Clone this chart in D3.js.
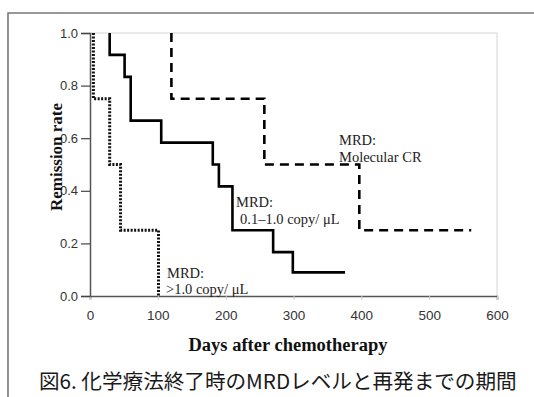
<!DOCTYPE html>
<html><head><meta charset="utf-8">
<script src="https://cdn.jsdelivr.net/npm/d3@7"></script>
<style>body{margin:0;background:#fff;}svg{display:block;}</style>
</head><body>
<script>
// Data (days after chemotherapy, remission rate)
// Each *Days entry = day of a drop from the matching *Rates level; last solid/dashed day = end of follow-up
const solidDays   = [29, 51, 60, 105, 181, 190, 210, 270, 299, 376];
const solidRates  = [1.0, 0.917, 0.833, 0.667, 0.583, 0.5, 0.417, 0.25, 0.167, 0.09];
const dottedDays  = [5, 29, 45, 101];
const dottedRates = [1.0, 0.75, 0.5, 0.25];
const dashedDays  = [120, 257, 397, 562];
const dashedRates = [1.0, 0.75, 0.5, 0.25];
const xTicks = [0, 100, 200, 300, 400, 500, 600];
const yTicks = [0.0, 0.2, 0.4, 0.6, 0.8, 1.0];

const W = 534, H = 397;
const svg = d3.select("body").append("svg").attr("width", W).attr("height", H);

const x = d3.scaleLinear().domain([0, 600]).range([90, 497]);
const y = d3.scaleLinear().domain([0, 1]).range([296, 33]);

// outer frame (cropped)
svg.append("path").attr("d", `M8,${H+2} V13 H${W+2}`)
  .attr("fill", "none").attr("stroke", "#777").attr("stroke-width", 1.6);

// plot border top/right light gray
svg.append("path").attr("d", `M90,33 H497 V296`)
  .attr("fill", "none").attr("stroke", "#d4d4d4").attr("stroke-width", 1);

const sans = "Liberation Sans, Arial, sans-serif";
// x axis
const xAxis = d3.axisBottom(x).tickValues(xTicks).tickSize(4).tickFormat(d3.format("d")).tickPadding(10);
const gx = svg.append("g").attr("transform", "translate(0,296)").call(xAxis);
gx.select(".domain").attr("stroke", "#555").attr("stroke-width", 1.5);
gx.selectAll(".tick line").attr("stroke", "#ccc");
gx.selectAll(".tick text").attr("font-family", sans).attr("font-size", 13.5).attr("fill", "#333");

// y axis
const yAxis = d3.axisLeft(y).tickValues(yTicks).tickSize(9).tickFormat(d3.format(".1f")).tickPadding(3);
const gy = svg.append("g").attr("transform", "translate(90,0)").call(yAxis);
gy.select(".domain").attr("stroke", "#555").attr("stroke-width", 1.5);
gy.selectAll(".tick line").attr("stroke", "#444").attr("stroke-width", 1.2);
gy.selectAll(".tick text").attr("font-family", sans).attr("font-size", 13).attr("fill", "#333");

// Kaplan-Meier style step path
function kmPath(days, rates, finalRate, endDay) {
  let pts = [[days[0], rates[0]]];
  for (let i = 0; i < days.length; i++) {
    const next = i + 1 < rates.length ? rates[i + 1] : finalRate;
    pts.push([days[i], next]);
    const nd = i + 1 < days.length ? days[i + 1] : endDay;
    pts.push([nd, next]);
  }
  return d3.line().x(d => x(d[0])).y(d => y(d[1]))(pts);
}

svg.append("path")
  .attr("d", kmPath(solidDays.slice(0, -1), solidRates.slice(0, -1), solidRates[solidRates.length - 1], solidDays[solidDays.length - 1]))
  .attr("fill", "none").attr("stroke", "#000").attr("stroke-width", 2.6);

svg.append("path")
  .attr("d", kmPath(dottedDays, dottedRates, 0, dottedDays[dottedDays.length - 1]))
  .attr("fill", "none").attr("stroke", "#111").attr("stroke-width", 3)
  .attr("stroke-dasharray", "2,1.5");

svg.append("path")
  .attr("d", kmPath(dashedDays.slice(0, -1), dashedRates.slice(0, -1), dashedRates[dashedRates.length - 1], dashedDays[dashedDays.length - 1]))
  .attr("fill", "none").attr("stroke", "#000").attr("stroke-width", 2.6)
  .attr("stroke-dasharray", "9,6");

// annotations
const serif = "Liberation Serif, Times New Roman, serif";
function label(lines, xx, yy, gap) {
  const t = svg.append("text").attr("font-family", serif).attr("font-size", 14.5).attr("fill", "#222");
  lines.forEach((s, i) => t.append("tspan").attr("x", xx[i]).attr("y", yy + i * gap).text(s));
}
label(["MRD:", "Molecular CR"], [339, 339], 145, 17);
label(["MRD:", "0.1\u20131.0 copy/ \u03bcL"], [236, 240], 207, 17);
label(["MRD:", ">1.0 copy/ \u03bcL"], [167, 166], 278, 15.5);

// axis titles
svg.append("text").attr("x", 288).attr("y", 351).attr("text-anchor", "middle")
  .attr("font-family", serif).attr("font-weight", "bold").attr("font-size", 18.5).attr("fill", "#111")
  .text("Days after chemotherapy");
svg.append("text").attr("transform", "translate(62,157) rotate(-90)").attr("text-anchor", "middle")
  .attr("font-family", serif).attr("font-weight", "bold").attr("font-size", 17).attr("fill", "#111")
  .text("Remission rate");

// caption
svg.append("text").attr("x", 39).attr("y", 389)
  .attr("font-family", "Noto Sans CJK JP, sans-serif").attr("font-size", 20.6).attr("fill", "#1a1a1a")
  .text("図6. 化学療法終了時のMRDレベルと再発までの期間");
</script>
</body></html>
